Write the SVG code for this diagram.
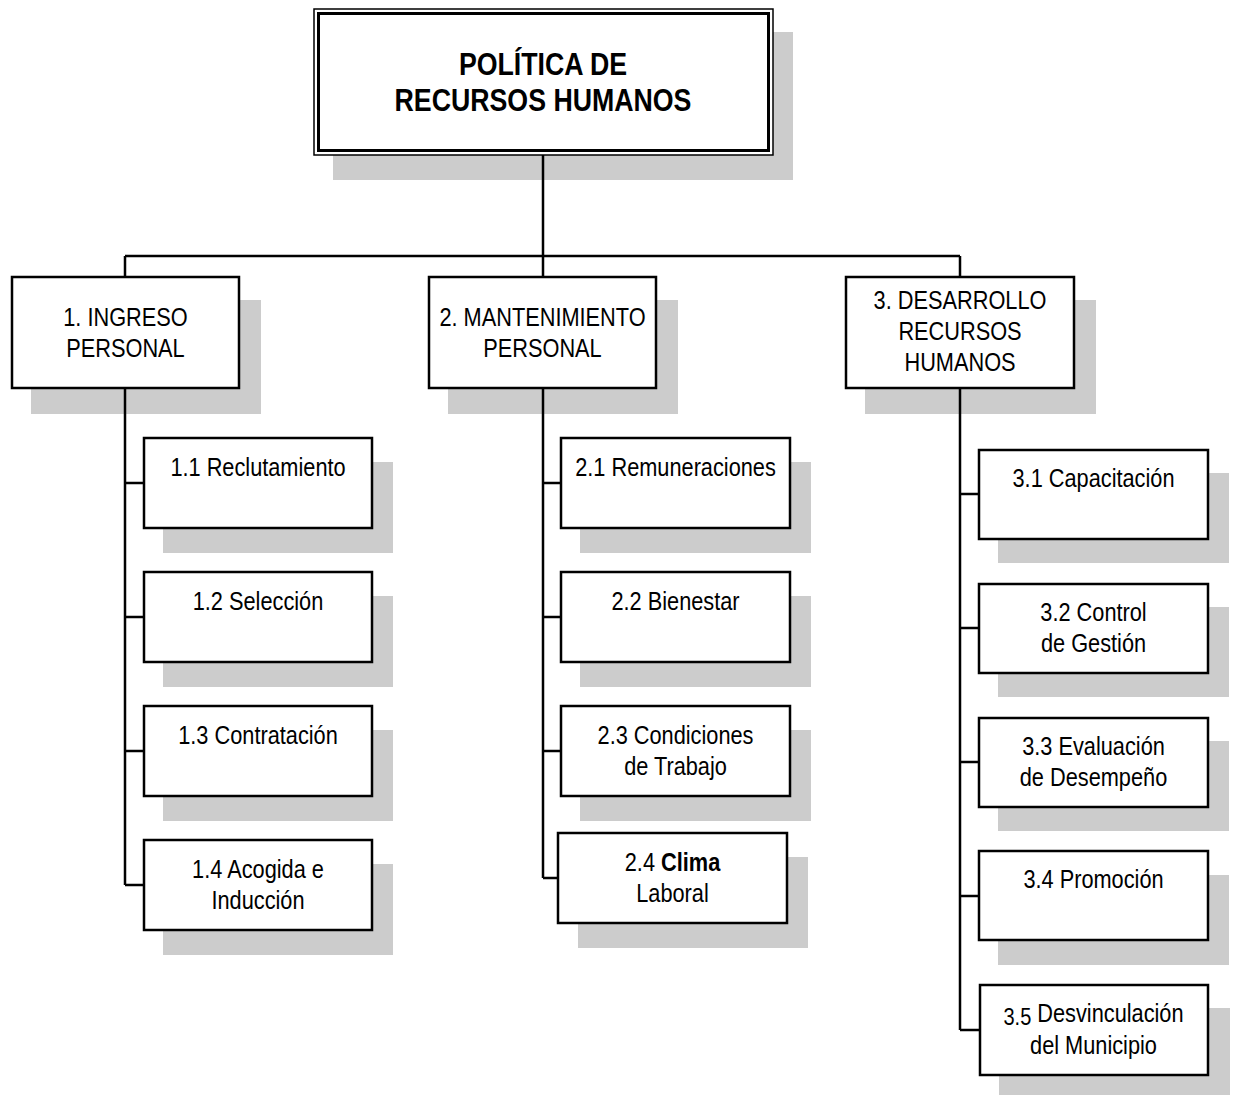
<svg xmlns="http://www.w3.org/2000/svg" width="1233" height="1095" viewBox="0 0 1233 1095">
<style>
.bg{fill:#ffffff}
.sh{fill:#cccccc}
.box{fill:#ffffff;stroke:#000;stroke-width:2.5}
.outer{fill:#ffffff;stroke:#000;stroke-width:1.5}
.inner{fill:none;stroke:#000;stroke-width:3}
.t{font-family:"Liberation Sans",Arial,sans-serif;font-size:25px;text-anchor:middle;fill:#000}
.title{font-family:"Liberation Sans",Arial,sans-serif;font-size:31px;font-weight:bold;text-anchor:middle;fill:#000}
.c{fill:none;stroke:#000;stroke-width:2.5}
</style>
<rect class="bg" x="0" y="0" width="1233" height="1095"/>

<g id="root">
<rect class="sh" x="333" y="32" width="460" height="148"/>
<rect class="outer" x="314" y="9" width="459" height="146"/>
<rect class="inner" x="318.5" y="13.5" width="450" height="137"/>
<text class="title" transform="translate(543,0) scale(0.862,1)"><tspan x="0" y="75">POLÍTICA DE</tspan><tspan x="0" y="111">RECURSOS HUMANOS</tspan></text>
</g>

<g id="n1">
<rect class="sh" x="31" y="300" width="230" height="114"/>
<rect class="box" x="12" y="277" width="227" height="111"/>
<text class="t" transform="translate(125.5,0) scale(0.87,1)"><tspan x="0" y="326">1. INGRESO</tspan><tspan x="0" y="357">PERSONAL</tspan></text>
</g>
<g id="n2">
<rect class="sh" x="448" y="300" width="230" height="114"/>
<rect class="box" x="429" y="277" width="227" height="111"/>
<text class="t" transform="translate(542.5,0) scale(0.87,1)"><tspan x="0" y="326">2. MANTENIMIENTO</tspan><tspan x="0" y="357">PERSONAL</tspan></text>
</g>
<g id="n3">
<rect class="sh" x="865" y="300" width="231" height="114"/>
<rect class="box" x="846" y="277" width="228" height="111"/>
<text class="t" transform="translate(960,0) scale(0.87,1)"><tspan x="0" y="309">3. DESARROLLO</tspan><tspan x="0" y="340">RECURSOS</tspan><tspan x="0" y="371">HUMANOS</tspan></text>
</g>

<g id="n1_1">
<rect class="sh" x="163" y="462" width="230" height="91"/>
<rect class="box" x="144" y="438" width="228" height="90"/>
<text class="t" transform="translate(258,0) scale(0.87,1)"><tspan x="0" y="476">1.1 Reclutamiento</tspan></text>
</g>
<g id="n1_2">
<rect class="sh" x="163" y="596" width="230" height="91"/>
<rect class="box" x="144" y="572" width="228" height="90"/>
<text class="t" transform="translate(258,0) scale(0.87,1)"><tspan x="0" y="610">1.2 Selección</tspan></text>
</g>
<g id="n1_3">
<rect class="sh" x="163" y="730" width="230" height="91"/>
<rect class="box" x="144" y="706" width="228" height="90"/>
<text class="t" transform="translate(258,0) scale(0.87,1)"><tspan x="0" y="744">1.3 Contratación</tspan></text>
</g>
<g id="n1_4">
<rect class="sh" x="163" y="864" width="230" height="91"/>
<rect class="box" x="144" y="840" width="228" height="90"/>
<text class="t" transform="translate(258,0) scale(0.87,1)"><tspan x="0" y="878">1.4 Acogida e</tspan><tspan x="0" y="909">Inducción</tspan></text>
</g>

<g id="n2_1">
<rect class="sh" x="580" y="462" width="231" height="91"/>
<rect class="box" x="561" y="438" width="229" height="90"/>
<text class="t" transform="translate(675.5,0) scale(0.87,1)"><tspan x="0" y="476">2.1 Remuneraciones</tspan></text>
</g>
<g id="n2_2">
<rect class="sh" x="580" y="596" width="231" height="91"/>
<rect class="box" x="561" y="572" width="229" height="90"/>
<text class="t" transform="translate(675.5,0) scale(0.87,1)"><tspan x="0" y="610">2.2 Bienestar</tspan></text>
</g>
<g id="n2_3">
<rect class="sh" x="580" y="730" width="231" height="91"/>
<rect class="box" x="561" y="706" width="229" height="90"/>
<text class="t" transform="translate(675.5,0) scale(0.87,1)"><tspan x="0" y="744">2.3 Condiciones</tspan><tspan x="0" y="775">de Trabajo</tspan></text>
</g>
<g id="n2_4">
<rect class="sh" x="578" y="857" width="230" height="91"/>
<rect class="box" x="558" y="833" width="229" height="90"/>
<text class="t" transform="translate(672.5,0) scale(0.87,1)"><tspan x="0" y="871">2.4 <tspan font-weight="bold">Clima</tspan></tspan><tspan x="0" y="902">Laboral</tspan></text>
</g>

<g id="n3_1">
<rect class="sh" x="998" y="473" width="231" height="90"/>
<rect class="box" x="979" y="450" width="229" height="89"/>
<text class="t" transform="translate(1093.5,0) scale(0.87,1)"><tspan x="0" y="487">3.1 Capacitación</tspan></text>
</g>
<g id="n3_2">
<rect class="sh" x="998" y="607" width="231" height="90"/>
<rect class="box" x="979" y="584" width="229" height="89"/>
<text class="t" transform="translate(1093.5,0) scale(0.87,1)"><tspan x="0" y="621">3.2 Control</tspan><tspan x="0" y="652">de Gestión</tspan></text>
</g>
<g id="n3_3">
<rect class="sh" x="998" y="741" width="231" height="90"/>
<rect class="box" x="979" y="718" width="229" height="89"/>
<text class="t" transform="translate(1093.5,0) scale(0.87,1)"><tspan x="0" y="755">3.3 Evaluación</tspan><tspan x="0" y="786">de Desempeño</tspan></text>
</g>
<g id="n3_4">
<rect class="sh" x="998" y="875" width="231" height="90"/>
<rect class="box" x="979" y="851" width="229" height="89"/>
<text class="t" transform="translate(1093.5,0) scale(0.87,1)"><tspan x="0" y="888">3.4 Promoción</tspan></text>
</g>
<g id="n3_5">
<rect class="sh" x="999" y="1008" width="231" height="90"/>
<rect class="box" x="980" y="985" width="228" height="90"/>
<text class="t" transform="translate(1093.5,0) scale(0.87,1)"><tspan x="0" y="1022"><tspan font-size="23" dy="3">3.5</tspan><tspan dy="-3"> Desvinculación</tspan></tspan><tspan x="0" y="1054">del Municipio</tspan></text>
</g>

<g id="connectors">
<path class="c" d="M543,155 V256 M125,256 H960 M125,256 V277 M543,256 V277 M960,256 V277"/>
<path class="c" d="M125,388 V885 M125,483 H144 M125,617 H144 M125,751 H144 M125,885 H144"/>
<path class="c" d="M543,388 V878 M543,483 H561 M543,617 H561 M543,751 H561 M543,878 H558"/>
<path class="c" d="M960,388 V1030 M960,494 H979 M960,628 H979 M960,762 H979 M960,896 H979 M960,1030 H980"/>
</g>
</svg>
